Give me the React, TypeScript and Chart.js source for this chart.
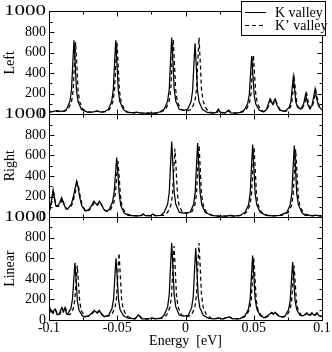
import React, { useEffect, useRef } from "react";
import { Chart, registerables } from "chart.js";

Chart.register(...registerables);

type Pt = [number, number];

const panelNames = ["Left", "Right", "Linear"];
const seriesNames = ["K valley", "K\u2019 valley"];
const xAxisTitle = "Energy  [eV]";
const xTickValues = [-0.1, -0.05, 0, 0.05, 0.1];
const xMinorValues = [-0.075, -0.025, 0.025, 0.075];
const yTickValues = [0, 200, 400, 600, 800, 1000];
const yMinorValues = [100, 300, 500, 700, 900];
const wideLabelValue = 1000;

const leftK: Pt[] = [
  [-0.1, 25], [-0.097, 28], [-0.094, 35], [-0.0915, 28], [-0.089, 33],
  [-0.0872, 47], [-0.0847, 123], [-0.0835, 238], [-0.0826, 490], [-0.0817, 720], [-0.0808, 490], [-0.0799, 238], [-0.0787, 123], [-0.0762, 47],
  [-0.072, 22], [-0.068, 22], [-0.065, 32], [-0.062, 22], [-0.059, 28],
  [-0.0566, 47], [-0.0541, 123], [-0.0529, 238], [-0.052, 490], [-0.0511, 720], [-0.0502, 490], [-0.0493, 238], [-0.0481, 123], [-0.0456, 47],
  [-0.043, 20], [-0.038, 14], [-0.036, 20], [-0.034, 14], [-0.028, 10], [-0.022, 12], [-0.019, 22],
  [-0.0156, 48], [-0.0131, 127], [-0.0119, 246], [-0.011, 507], [-0.0101, 745], [-0.0092, 507], [-0.0083, 246], [-0.0071, 127], [-0.0046, 48],
  [-0.0015, 38],
  [0.0015, 46], [0.004, 118], [0.0052, 228], [0.0061, 469], [0.007, 690], [0.0079, 469], [0.0088, 228], [0.01, 118], [0.0125, 46],
  [0.016, 18], [0.02, 12], [0.0225, 18], [0.024, 50], [0.0255, 18], [0.029, 12], [0.0314, 40], [0.033, 14], [0.037, 12], [0.04, 18],
  [0.043, 40], [0.0455, 100], [0.0467, 186], [0.0476, 384], [0.0485, 565], [0.0494, 384], [0.0503, 186], [0.0515, 100], [0.054, 40],
  [0.057, 25], [0.059, 40], [0.0605, 90], [0.0619, 150], [0.0637, 100], [0.0656, 150], [0.067, 90], [0.069, 40], [0.0715, 30],
  [0.0735, 35], [0.076, 70], [0.0772, 120], [0.0781, 250], [0.079, 365], [0.0799, 250], [0.0808, 120], [0.082, 70], [0.0845, 50],
  [0.0865, 100], [0.088, 195], [0.0895, 100], [0.091, 55], [0.0925, 80], [0.0938, 160], [0.0949, 245], [0.096, 160], [0.0975, 80], [0.1, 40],
];

const leftKp: Pt[] = [
  [-0.1, 22], [-0.097, 25], [-0.094, 30], [-0.0915, 25], [-0.0885, 30],
  [-0.086, 46], [-0.0835, 120], [-0.0823, 231], [-0.0814, 476], [-0.0805, 700], [-0.0796, 476], [-0.0787, 231], [-0.0775, 120], [-0.075, 46],
  [-0.071, 22], [-0.068, 22], [-0.0645, 30], [-0.061, 22], [-0.058, 28],
  [-0.0557, 46], [-0.0532, 120], [-0.052, 231], [-0.0511, 476], [-0.0502, 700], [-0.0493, 476], [-0.0484, 231], [-0.0472, 120], [-0.0447, 46],
  [-0.042, 18], [-0.038, 14], [-0.0355, 20], [-0.033, 14], [-0.028, 10], [-0.021, 12], [-0.018, 22],
  [-0.0145, 48], [-0.012, 124], [-0.0108, 240], [-0.0099, 493], [-0.009, 725], [-0.0081, 493], [-0.0072, 240], [-0.006, 124], [-0.0035, 48],
  [0.0012, 32],
  [0.0044, 48], [0.0069, 127], [0.0081, 246], [0.009, 507], [0.0099, 745], [0.0108, 507], [0.0117, 246], [0.0129, 127], [0.0154, 48],
  [0.019, 16], [0.0215, 12], [0.0232, 18], [0.0245, 45], [0.026, 18], [0.0295, 12], [0.032, 35], [0.0335, 14], [0.038, 12], [0.041, 18],
  [0.0442, 41], [0.0467, 101], [0.0479, 190], [0.0488, 391], [0.0497, 575], [0.0506, 391], [0.0515, 190], [0.0527, 101], [0.0552, 41],
  [0.0575, 25], [0.0595, 40], [0.061, 85], [0.0625, 140], [0.0642, 95], [0.066, 140], [0.0675, 85], [0.0695, 40], [0.072, 28],
  [0.0742, 32], [0.0767, 65], [0.0779, 112], [0.0788, 231], [0.0797, 340], [0.0806, 231], [0.0815, 112], [0.0827, 65], [0.0852, 50],
  [0.0872, 100], [0.0888, 200], [0.0902, 100], [0.0917, 55], [0.093, 80], [0.0943, 150], [0.0955, 230], [0.0966, 150], [0.098, 80], [0.1, 45],
];

const rightK: Pt[] = [
  [-0.1, 60], [-0.0992, 90], [-0.0982, 160], [-0.097, 265], [-0.0958, 160], [-0.095, 110], [-0.0935, 110], [-0.0922, 140], [-0.0907, 190], [-0.0893, 130],
  [-0.0875, 80], [-0.086, 85], [-0.0835, 130], [-0.0818, 220], [-0.0806, 300], [-0.0797, 350], [-0.0788, 300], [-0.0776, 200], [-0.076, 110], [-0.0735, 60],
  [-0.071, 70], [-0.069, 110], [-0.067, 155], [-0.065, 120], [-0.063, 155], [-0.0612, 110], [-0.0595, 70], [-0.058, 58],
  [-0.056, 70], [-0.0534, 150], [-0.0522, 250], [-0.0513, 420], [-0.0504, 580], [-0.0495, 420], [-0.0486, 230], [-0.0474, 110], [-0.0449, 40],
  [-0.042, 18], [-0.036, 12], [-0.033, 14], [-0.031, 30], [-0.0295, 14], [-0.0255, 14], [-0.024, 30], [-0.0225, 14], [-0.018, 18],
  [-0.0156, 48], [-0.0131, 125], [-0.0119, 243], [-0.011, 500], [-0.0101, 735], [-0.0092, 500], [-0.0083, 243], [-0.0071, 125], [-0.0046, 48],
  [-0.0015, 38],
  [0.0034, 47], [0.0059, 123], [0.0071, 238], [0.008, 490], [0.0089, 720], [0.0098, 490], [0.0107, 238], [0.0119, 123], [0.0144, 47],
  [0.019, 16], [0.024, 10], [0.03, 10], [0.0326, 18], [0.035, 10], [0.04, 16],
  [0.0437, 47], [0.0462, 120], [0.0474, 233], [0.0483, 480], [0.0492, 705], [0.0501, 480], [0.051, 233], [0.0522, 120], [0.0547, 47],
  [0.059, 18], [0.064, 12], [0.069, 18],
  [0.0742, 46], [0.0767, 119], [0.0779, 229], [0.0788, 473], [0.0797, 695], [0.0806, 473], [0.0815, 229], [0.0827, 119], [0.0852, 46],
  [0.0875, 18], [0.09, 22], [0.0925, 12], [0.095, 20], [0.098, 12], [0.1, 12],
];

const rightKp: Pt[] = [
  [-0.1, 55], [-0.099, 80], [-0.0978, 150], [-0.0966, 250], [-0.0954, 150], [-0.0945, 105], [-0.093, 105], [-0.0917, 130], [-0.0902, 180], [-0.0888, 125],
  [-0.087, 78], [-0.0855, 80], [-0.083, 125], [-0.0812, 210], [-0.08, 285], [-0.0791, 330], [-0.0782, 285], [-0.077, 190], [-0.0755, 105], [-0.073, 58],
  [-0.0705, 68], [-0.0685, 105], [-0.0665, 145], [-0.0645, 115], [-0.0625, 145], [-0.0607, 105], [-0.059, 66], [-0.0572, 54],
  [-0.0551, 68], [-0.0525, 140], [-0.0513, 235], [-0.0504, 395], [-0.0495, 545], [-0.0486, 395], [-0.0477, 215], [-0.0465, 105], [-0.044, 38],
  [-0.04, 18], [-0.036, 12], [-0.0325, 14], [-0.0305, 28], [-0.029, 14], [-0.025, 14], [-0.0235, 28], [-0.022, 14], [-0.016, 18],
  [-0.0132, 45], [-0.0107, 115], [-0.0095, 220], [-0.0086, 452], [-0.0077, 665], [-0.0068, 452], [-0.0059, 220], [-0.0047, 115], [-0.0022, 45],
  [0.0015, 38],
  [0.0044, 46], [0.0069, 120], [0.0081, 231], [0.009, 476], [0.0099, 700], [0.0108, 476], [0.0117, 231], [0.0129, 120], [0.0154, 46],
  [0.02, 16], [0.025, 10], [0.031, 10], [0.0334, 16], [0.036, 10], [0.041, 16],
  [0.0447, 46], [0.0472, 117], [0.0484, 224], [0.0493, 462], [0.0502, 680], [0.0511, 462], [0.052, 224], [0.0532, 117], [0.0557, 46],
  [0.06, 18], [0.065, 12], [0.0705, 18],
  [0.0752, 44], [0.0777, 113], [0.0789, 218], [0.0798, 449], [0.0807, 660], [0.0816, 449], [0.0825, 218], [0.0837, 113], [0.0862, 44],
  [0.089, 18], [0.091, 22], [0.0935, 12], [0.096, 20], [0.0985, 12], [0.1, 12],
];

const linearK: Pt[] = [
  [-0.1, 55], [-0.099, 107], [-0.0975, 70], [-0.0956, 107], [-0.094, 50], [-0.0925, 60], [-0.0907, 120], [-0.0895, 80], [-0.0883, 120], [-0.0872, 60],
  [-0.0865, 55], [-0.084, 110], [-0.0828, 200], [-0.0819, 380], [-0.081, 557], [-0.0801, 380], [-0.0792, 185], [-0.078, 95], [-0.0755, 40],
  [-0.0735, 30], [-0.071, 40], [-0.0685, 70], [-0.0668, 94], [-0.065, 70], [-0.0631, 94], [-0.0615, 55], [-0.0595, 32],
  [-0.0564, 45], [-0.0539, 110], [-0.0527, 200], [-0.0518, 410], [-0.0509, 600], [-0.05, 410], [-0.0491, 200], [-0.0479, 100], [-0.0454, 40],
  [-0.042, 18], [-0.037, 12], [-0.0346, 50], [-0.032, 12], [-0.027, 10], [-0.0248, 20], [-0.022, 10], [-0.018, 18],
  [-0.0156, 48], [-0.0131, 127], [-0.0119, 247], [-0.011, 509], [-0.0101, 748], [-0.0092, 509], [-0.0083, 247], [-0.0071, 127], [-0.0046, 48],
  [-0.0015, 38],
  [0.002, 46], [0.0045, 120], [0.0057, 231], [0.0066, 476], [0.0075, 700], [0.0084, 476], [0.0093, 231], [0.0105, 120], [0.013, 46],
  [0.017, 16], [0.021, 10], [0.024, 20], [0.027, 10], [0.0319, 30], [0.0345, 10], [0.04, 14],
  [0.0437, 43], [0.0462, 110], [0.0474, 207], [0.0483, 426], [0.0492, 627], [0.0501, 426], [0.051, 207], [0.0522, 110], [0.0547, 43],
  [0.0575, 22], [0.0605, 45], [0.0631, 75], [0.0643, 55], [0.0656, 75], [0.068, 40], [0.071, 28],
  [0.073, 40], [0.0755, 100], [0.0767, 186], [0.0776, 383], [0.0785, 563], [0.0794, 383], [0.0803, 186], [0.0815, 100], [0.084, 45],
  [0.086, 40], [0.0888, 70], [0.0906, 45], [0.0924, 70], [0.0942, 45], [0.0961, 70], [0.098, 40], [0.1, 35],
];

const linearKp: Pt[] = [
  [-0.1, 50], [-0.0985, 100], [-0.097, 65], [-0.0952, 100], [-0.0935, 48], [-0.092, 58], [-0.0902, 112], [-0.089, 76], [-0.0878, 112], [-0.0862, 58],
  [-0.0848, 52], [-0.0823, 105], [-0.0811, 190], [-0.0802, 360], [-0.0793, 530], [-0.0784, 360], [-0.0775, 175], [-0.0763, 90], [-0.0738, 38],
  [-0.0715, 35], [-0.0695, 45], [-0.068, 68], [-0.0663, 90], [-0.0645, 68], [-0.0626, 90], [-0.061, 52], [-0.059, 32],
  [-0.0542, 48], [-0.0517, 118], [-0.0505, 215], [-0.0496, 445], [-0.0487, 652], [-0.0478, 445], [-0.0469, 215], [-0.0457, 108], [-0.0432, 42],
  [-0.04, 18], [-0.037, 12], [-0.034, 45], [-0.0315, 12], [-0.0265, 10], [-0.0243, 18], [-0.0215, 10], [-0.017, 18],
  [-0.0139, 47], [-0.0114, 123], [-0.0102, 238], [-0.0093, 490], [-0.0084, 720], [-0.0075, 490], [-0.0066, 238], [-0.0054, 123], [-0.0029, 47],
  [0.0012, 32],
  [0.0044, 48], [0.0069, 127], [0.0081, 247], [0.009, 509], [0.0099, 748], [0.0108, 509], [0.0117, 247], [0.0129, 127], [0.0154, 48],
  [0.019, 16], [0.0215, 10], [0.0245, 18], [0.0275, 10], [0.0325, 28], [0.035, 10], [0.041, 14],
  [0.0445, 42], [0.047, 105], [0.0482, 198], [0.0491, 408], [0.05, 600], [0.0509, 408], [0.0518, 198], [0.053, 105], [0.0555, 42],
  [0.0585, 22], [0.061, 42], [0.0636, 70], [0.0648, 52], [0.0661, 70], [0.0685, 38], [0.0715, 28],
  [0.074, 38], [0.0765, 95], [0.0777, 175], [0.0786, 360], [0.0795, 530], [0.0804, 360], [0.0813, 175], [0.0825, 95], [0.085, 42],
  [0.0868, 40], [0.0893, 66], [0.0911, 42], [0.0929, 66], [0.0947, 42], [0.0966, 66], [0.0985, 38], [0.1, 32],
];

const panelData: Pt[][][] = [
  [leftK, leftKp],
  [rightK, rightKp],
  [linearK, linearKp],
];

const FONT = "'Liberation Serif', 'Times New Roman', serif";
const axisIds = ["yLeft", "yRight", "yLinear"];

const framePlugin = {
  id: "frame",
  afterDatasetsDraw(chart: any) {
    const ctx = chart.ctx;
    const xs = chart.scales.x;
    const L = Math.round(chart.chartArea.left) + 0.5;
    const R = Math.round(chart.chartArea.right) + 0.5;
    ctx.save();
    ctx.strokeStyle = "#000";
    ctx.lineWidth = 1;
    ctx.setLineDash([]);
    axisIds.forEach((id) => {
      const s = chart.scales[id];
      const T = Math.round(s.top) + 0.5;
      const B = Math.round(s.bottom) + 0.5;
      ctx.beginPath();
      ctx.rect(L, T, R - L, B - T);
      const xt = (v: number, len: number) => {
        const px = Math.round(xs.getPixelForValue(v)) + 0.5;
        ctx.moveTo(px, T);
        ctx.lineTo(px, T + len);
        ctx.moveTo(px, B);
        ctx.lineTo(px, B - len);
      };
      xTickValues.forEach((v) => xt(v, 5));
      xMinorValues.forEach((v) => xt(v, 3));
      const yt = (v: number, len: number) => {
        const py = Math.round(s.getPixelForValue(v)) + 0.5;
        ctx.moveTo(L, py);
        ctx.lineTo(L + len, py);
        ctx.moveTo(R, py);
        ctx.lineTo(R - len, py);
      };
      yTickValues.forEach((v) => yt(v, 5));
      yMinorValues.forEach((v) => yt(v, 3));
      ctx.stroke();
    });
    ctx.restore();
  },
  afterDraw(chart: any) {
    const ctx = chart.ctx;
    ctx.save();
    // wide "1000" tick labels, as in the reference
    ctx.font = `14px ${FONT}`;
    ctx.fillStyle = "#000";
    ctx.textAlign = "right";
    ctx.textBaseline = "middle";
    axisIds.forEach((id) => {
      const s = chart.scales[id];
      const y = s.getPixelForValue(wideLabelValue);
      ctx.save();
      ctx.translate(s.right - 3, y);
      ctx.scale(1.5, 1);
      ctx.fillText(String(wideLabelValue), 0, 0);
      ctx.restore();
    });
    // legend
    ctx.textAlign = "left";
    const bx = 241.5, by = 1.5, bw = 84, bh = 34;
    ctx.fillStyle = "#fff";
    ctx.fillRect(bx, by, bw, bh);
    ctx.strokeStyle = "#000";
    ctx.lineWidth = 1;
    ctx.strokeRect(bx, by, bw, bh);
    const rows = [12.5, 25.5];
    const dashes = [[], [4, 3]];
    ctx.fillStyle = "#000";
    rows.forEach((ry, i) => {
      ctx.beginPath();
      ctx.setLineDash(dashes[i]);
      ctx.moveTo(245, ry);
      ctx.lineTo(266, ry);
      ctx.stroke();
      ctx.setLineDash([]);
      ctx.fillText(seriesNames[i], 275, ry + 0.5);
    });
    ctx.restore();
  },
};

export default function App() {
  const ref = useRef<HTMLCanvasElement | null>(null);
  useEffect(() => {
    document.body.style.margin = "0";
    const canvas = ref.current!;
    const datasets: any[] = [];
    panelData.forEach((pair, p) => {
      pair.forEach((pts, s) => {
        datasets.push({
          label: `${panelNames[p]} ${seriesNames[s]}`,
          data: pts.map(([x, y]) => ({ x, y })),
          yAxisID: axisIds[p],
          borderColor: "#000",
          borderWidth: 1.25,
          borderDash: s === 1 ? [4, 3] : [],
          pointRadius: 0,
          tension: 0,
          fill: false,
        });
      });
    });
    const yScale = (p: number) => ({
      type: "linear",
      position: "left",
      stack: "panels",
      stackWeight: 1,
      weight: 3 - p,
      min: 0,
      max: 1000,
      grid: { display: false, drawTicks: false },
      border: { display: false },
      afterBuildTicks: (sc: any) => {
        sc.ticks = yTickValues.map((v) => ({ value: v }));
      },
      afterFit: (sc: any) => {
        sc.width = 49;
      },
      ticks: {
        color: "#000",
        padding: 3,
        autoSkip: false,
        font: { family: FONT, size: 14 },
        callback: (v: any) => (v === wideLabelValue ? "" : String(v)),
      },
      title: {
        display: true,
        text: panelNames[p],
        color: "#000",
        font: { family: FONT, size: 14 },
        padding: { top: 2, bottom: 0 },
      },
    });
    const chart = new Chart(canvas, {
      type: "line",
      data: { datasets },
      options: {
        responsive: false,
        animation: false,
        devicePixelRatio: 1,
        layout: { padding: { top: 7, right: 10, left: 0, bottom: 0 } },
        plugins: { legend: { display: false }, tooltip: { enabled: false } },
        scales: {
          x: {
            type: "linear",
            min: -0.1,
            max: 0.1,
            grid: { display: false, drawTicks: false },
            border: { display: false },
            afterBuildTicks: (sc: any) => {
              sc.ticks = xTickValues.map((v) => ({ value: v }));
            },
            afterFit: (sc: any) => {
              sc.height = 32;
            },
            ticks: {
              color: "#000",
              padding: 0,
              maxRotation: 0,
              autoSkip: false,
              font: { family: FONT, size: 14 },
              callback: (v: any) => String(Math.round(v * 1000) / 1000),
            },
            title: {
              display: true,
              text: xAxisTitle,
              color: "#000",
              font: { family: FONT, size: 14 },
              padding: { top: 0, bottom: 2 },
            },
          },
          yLeft: yScale(0),
          yRight: yScale(1),
          yLinear: yScale(2),
        } as any,
      },
      plugins: [framePlugin],
    } as any);
    return () => chart.destroy();
  }, []);
  return <canvas ref={ref} width={332} height={352} style={{ display: "block" }} />;
}
